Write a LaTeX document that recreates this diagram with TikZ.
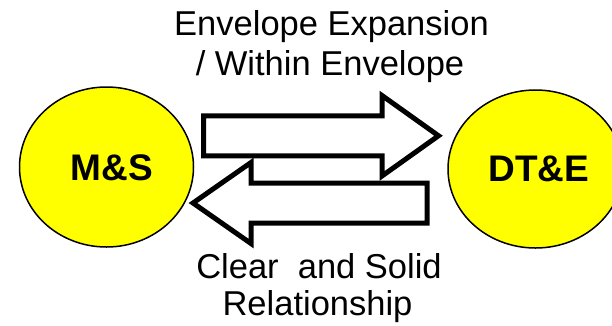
\documentclass[tikz,border=0pt]{standalone}
\usepackage{fontspec}
\setmainfont{Liberation Sans}
\definecolor{circfill}{HTML}{FFFF00}
\begin{document}
\begin{tikzpicture}[x=1bp,y=-1bp,
  circtext/.style={font=\fontsize{37bp}{40bp}\selectfont\bfseries, anchor=center, inner sep=0pt},
  labtext/.style={font=\fontsize{34.5bp}{40bp}\selectfont, anchor=base, inner sep=0pt},
  circshape/.style={draw=black, line width=1.5bp, fill=circfill},
  blockarrow/.style={draw=black, fill=white, line width=5bp, miter limit=10, line join=miter}]
\useasboundingbox (0,0) rectangle (612,325);
% circles
\draw[circshape] (106.5,167) ellipse [x radius=87, y radius=80];
\draw[circshape] (535.5,169) ellipse [x radius=87.5, y radius=79];
\node[circtext] (ms) at (112,167.5) {M\&S};
\node[circtext] (dte) at (539,168.5) {DT\&E};
% block arrows
\draw[blockarrow] (203.5,115.75) -- (382,115.75) -- (382,95.5) -- (438.5,135.75) -- (382,176) -- (382,155.75) -- (203.5,155.75) -- cycle;
\draw[blockarrow] (427,183) -- (251,183) -- (251,162.5) -- (193,203) -- (251,243.5) -- (251,223) -- (427,223) -- cycle;
% labels
\node[labtext] (t1) at (331.5,35) {Envelope Expansion};
\node[labtext] (t2) at (330,75) {/ Within Envelope};
\node[labtext] (b1) at (319,278) {Clear\ \ and Solid};
\node[labtext] (b2) at (317.5,315) {Relationship};
\end{tikzpicture}
\end{document}
